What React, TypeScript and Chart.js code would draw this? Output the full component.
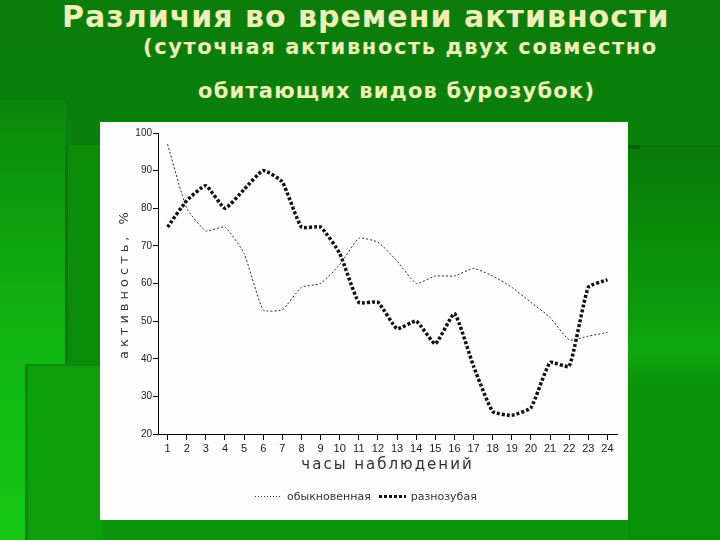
import React, { useRef, useEffect } from 'react';
import { Chart, ChartConfiguration, registerables } from 'chart.js';

Chart.register(...registerables);

// hours of observation
const hours = ['1', '2', '3', '4', '5', '6', '7', '8', '9', '10', '11', '12',
  '13', '14', '15', '16', '17', '18', '19', '20', '21', '22', '23', '24'];

// activity, %
const commonShrew = [97, 80, 74, 75, 68, 53, 53, 59, 60, 65, 72, 71,
  66, 60, 62, 62, 64, 62, 59, 55, 51, 45, 46, 47];
const evenToothedShrew = [75, 82, 86, 80, 85, 90, 87, 75, 75, 68, 55, 55,
  48, 50, 44, 52, 38, 26, 25, 27, 39, 38, 59, 61];

const seriesNames = ['обыкновенная', 'разнозубая'];
const xTitle = 'часы наблюдений';
const yTitle = 'активность, %';

// axis titles are drawn by hand so they can get letter spacing
const axisTitles = {
  id: 'axisTitles',
  afterDraw(chart: Chart) {
    const { ctx, chartArea } = chart;
    ctx.save();
    ctx.fillStyle = '#333';
    ctx.textAlign = 'center';
    ctx.textBaseline = 'middle';
    (ctx as any).letterSpacing = '2px';
    ctx.font = '15px "DejaVu Sans"';
    ctx.fillText(xTitle, (chartArea.left + chartArea.right) / 2, chartArea.bottom + 31);
    (ctx as any).letterSpacing = '4px';
    ctx.font = '13px "DejaVu Sans"';
    ctx.translate(25, (chartArea.top + chartArea.bottom) / 2);
    ctx.rotate(-Math.PI / 2);
    ctx.fillText(yTitle, 0, 0);
    ctx.restore();
  },
};

const ActivityChart: React.FC = () => {
  const chartRef = useRef<HTMLCanvasElement>(null);
  const chartInstance = useRef<Chart | null>(null);

  useEffect(() => {
    if (!chartRef.current) return;
    if (chartInstance.current) chartInstance.current.destroy();
    const ctx = chartRef.current.getContext('2d');
    if (!ctx) return;

    const config: ChartConfiguration = {
      type: 'line',
      data: {
        labels: hours,
        datasets: [
          {
            label: seriesNames[0],
            data: commonShrew,
            borderColor: '#2a2a2a',
            borderWidth: 1,
            borderDash: [2, 2],
            pointRadius: 0,
            tension: 0.15,
            fill: false,
          },
          {
            label: seriesNames[1],
            data: evenToothedShrew,
            borderColor: '#111',
            borderWidth: 3.5,
            borderDash: [3, 2],
            pointRadius: 0,
            tension: 0.15,
            fill: false,
          },
        ],
      },
      options: {
        responsive: false,
        animation: false,
        layout: { padding: { left: 0, right: 11, top: 11, bottom: 46 } },
        plugins: {
          legend: { display: false },
          tooltip: { enabled: false },
        },
        scales: {
          x: {
            offset: true,
            grid: { display: true, drawOnChartArea: false, drawTicks: true, tickLength: 6, color: '#000' },
            border: { display: true, color: '#000', width: 1 },
            ticks: { color: '#222', padding: 2, font: { family: 'Liberation Sans', size: 11 }, maxRotation: 0, autoSkip: false },
            afterFit: (scale: any) => { scale.height = 40; },
          },
          y: {
            min: 20,
            max: 100,
            grid: { display: true, drawOnChartArea: false, drawTicks: true, tickLength: 5, color: '#000' },
            border: { display: true, color: '#000', width: 1 },
            ticks: { stepSize: 10, color: '#222', padding: 1, font: { family: 'Liberation Sans', size: 10 } },
            afterFit: (scale: any) => { scale.width = 58; },
          },
        },
      },
      plugins: [axisTitles],
    };

    chartInstance.current = new Chart(ctx, config);
    return () => {
      if (chartInstance.current) chartInstance.current.destroy();
    };
  }, []);

  return <canvas ref={chartRef} width={528} height={398} style={{ position: 'absolute', left: 0, top: 0 }} />;
};

const titleStyle: React.CSSProperties = {
  position: 'absolute',
  color: '#efefb6',
  fontFamily: '"DejaVu Sans", sans-serif',
  fontWeight: 'bold',
  whiteSpace: 'nowrap',
  lineHeight: 1,
};

export default function App() {
  return (
    <div style={{
      position: 'fixed', left: 0, top: 0, width: 720, height: 540, overflow: 'hidden',
      background: 'linear-gradient(180deg, #0a7c0a 0%, #0a850a 45%, #0c960c 100%)',
    }}>
      {/* background decoration */}
      <div style={{ position: 'absolute', left: 0, top: 100, width: 66, height: 440,
        background: 'linear-gradient(180deg, #0a870a 0%, #10b410 50%, #14c814 100%)' }} />
      <div style={{ position: 'absolute', left: 65, top: 145, width: 35, height: 395,
        background: '#0b8d0b', borderLeft: '3px solid #0a780a' }} />
      <div style={{ position: 'absolute', left: 25, top: 364, width: 75, height: 176,
        background: '#0ca00c', borderLeft: '3px solid #0b8a0b', borderTop: '2px solid #0b8a0b' }} />
      <div style={{ position: 'absolute', left: 628, top: 145, width: 92, height: 395,
        background: 'linear-gradient(180deg, #087a08 0%, #0b9a0b 40%, #0ea80e 52%, #0a940a 60%, #099009 100%)' }} />
      <div style={{ position: 'absolute', left: 628, top: 145, width: 12, height: 4, background: '#066006' }} />

      {/* heading */}
      <div style={{ ...titleStyle, left: 62, top: 2, fontSize: 30, letterSpacing: 1 }}>
        Различия во времени активности
      </div>
      <div style={{ ...titleStyle, left: 143, top: 37, fontSize: 21, letterSpacing: 1.6 }}>
        (суточная активность двух совместно
      </div>
      <div style={{ ...titleStyle, left: 198, top: 81, fontSize: 21, letterSpacing: 1.2 }}>
        обитающих видов бурозубок)
      </div>

      {/* chart panel */}
      <div style={{ position: 'absolute', left: 100, top: 122, width: 528, height: 398, background: '#fdfdfd' }}>
        <ActivityChart />
        <div style={{ position: 'absolute', left: 155, top: 368, display: 'flex', alignItems: 'center',
          fontFamily: '"DejaVu Sans", sans-serif', fontSize: 11, color: '#333', whiteSpace: 'nowrap' }}>
          <span style={{ display: 'inline-block', width: 27, height: 1, marginRight: 5,
            background: 'repeating-linear-gradient(90deg, #333 0 1px, transparent 1px 3px)' }} />
          <span style={{ marginRight: 8 }}>{seriesNames[0]}</span>
          <span style={{ display: 'inline-block', width: 27, height: 3, marginRight: 5,
            background: 'repeating-linear-gradient(90deg, #111 0 3px, transparent 3px 5px)' }} />
          <span>{seriesNames[1]}</span>
        </div>
      </div>
    </div>
  );
}
